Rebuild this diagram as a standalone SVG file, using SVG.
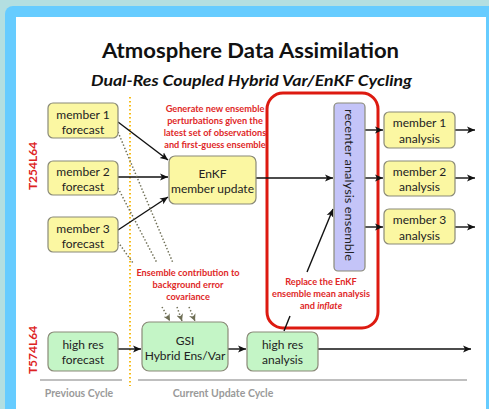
<svg xmlns="http://www.w3.org/2000/svg" width="489" height="409" viewBox="0 0 489 409">
  <style>
    .box { stroke: #8a8a78; stroke-width: 1.2; }
    .ens { fill: #fbf7a2; }
    .hi { fill: #c4f5c6; }
    .lbl { font-family: Lato, "Liberation Sans", sans-serif; font-size: 12px; fill: #222; text-anchor: middle; }
    .note { font-family: Lato, "Liberation Sans", sans-serif; font-size: 9.2px; font-weight: bold; fill: #e02828; text-anchor: middle; }
    .res { font-family: Lato, "Liberation Sans", sans-serif; font-size: 12px; font-weight: bold; fill: #dd2222; text-anchor: middle; }
    .cyc { font-family: Lato, "Liberation Sans", sans-serif; font-size: 10.5px; font-weight: bold; fill: #9a9a9a; text-anchor: middle; }
    .arr { stroke: #111; stroke-width: 1.4; fill: none; marker-end: url(#head); }
    .dots { stroke: #6e6e55; stroke-width: 1.5; stroke-dasharray: 1.4 2; fill: none; }
  </style>
  <defs>
    <marker id="head" markerUnits="userSpaceOnUse" markerWidth="9" markerHeight="8" refX="8" refY="4" orient="auto">
      <path d="M0,0.5 L8,4 L0,7.5 L2,4 Z" fill="#111"/>
    </marker>
    <marker id="ohead" markerUnits="userSpaceOnUse" markerWidth="8" markerHeight="8" refX="7" refY="4" orient="auto">
      <path d="M0,0.5 L7,4 L0,7.5 L2,4 Z" fill="#6e6e55"/>
    </marker>
  </defs>

  <!-- page background and frame -->
  <rect x="0" y="0" width="489" height="409" fill="#b3dfe1"/>
  <rect x="5" y="6" width="500" height="420" rx="8" fill="#66ccff"/>
  <rect x="16" y="17" width="470" height="400" fill="#ffffff"/>

  <!-- titles -->
  <text x="250.5" y="58" font-family="Lato, 'Liberation Sans', sans-serif" font-size="21" font-weight="bold" fill="#111" text-anchor="middle" textLength="297" lengthAdjust="spacingAndGlyphs">Atmosphere Data Assimilation</text>
  <text x="251.5" y="86" font-family="Lato, 'Liberation Sans', sans-serif" font-size="16" font-weight="bold" font-style="italic" fill="#111" text-anchor="middle" textLength="321" lengthAdjust="spacingAndGlyphs">Dual-Res Coupled Hybrid Var/EnKF Cycling</text>

  <!-- resolution labels -->
  <text class="res" transform="translate(37,166) rotate(-90)">T254L64</text>
  <text class="res" transform="translate(37,350) rotate(-90)">T574L64</text>

  <!-- cycle boundary -->
  <line x1="130" y1="97" x2="130" y2="386" stroke="#f7b500" stroke-width="1.8" stroke-dasharray="1.5 2.5"/>
  <line x1="40" y1="380" x2="122" y2="380" stroke="#aaaaaa" stroke-width="1.5"/>
  <line x1="138" y1="380" x2="467" y2="380" stroke="#aaaaaa" stroke-width="1.5"/>
  <text class="cyc" x="79" y="397">Previous Cycle</text>
  <text class="cyc" x="223" y="397">Current Update Cycle</text>

  <!-- recenter step outline -->
  <rect x="267" y="93" width="111" height="235" rx="16" fill="none" stroke="#dd1a10" stroke-width="3"/>

  <!-- connectors -->
  <g id="connectors">
    <line class="arr" x1="118" y1="122" x2="168" y2="160"/>
    <line class="arr" x1="118" y1="177" x2="168" y2="177"/>
    <line class="arr" x1="118" y1="230" x2="168" y2="197"/>
    <line class="arr" x1="256" y1="178" x2="333" y2="178"/>
    <line class="arr" x1="307" y1="272" x2="333" y2="209"/>
    <line x1="284" y1="331" x2="290" y2="316" stroke="#111" stroke-width="1.4"/>
    <line class="arr" x1="365" y1="130" x2="383" y2="130"/>
    <line class="arr" x1="365" y1="178" x2="383" y2="178"/>
    <line class="arr" x1="365" y1="227" x2="383" y2="227"/>
    <line class="arr" x1="455" y1="130" x2="475" y2="130"/>
    <line class="arr" x1="455" y1="178" x2="475" y2="178"/>
    <line class="arr" x1="455" y1="227" x2="475" y2="227"/>
    <line class="arr" x1="118" y1="349" x2="141" y2="349"/>
    <line class="arr" x1="228" y1="349" x2="246" y2="349"/>
    <line class="arr" x1="318" y1="349" x2="471" y2="349"/>
    <!-- ensemble covariance contributions -->
    <line class="dots" x1="118" y1="132" x2="173" y2="263"/>
    <line class="dots" x1="118" y1="188" x2="157" y2="263"/>
    <line class="dots" x1="118" y1="242" x2="133" y2="263"/>
    <line class="dots" x1="162" y1="307" x2="170" y2="321" marker-end="url(#ohead)"/>
    <line class="dots" x1="177" y1="307" x2="182" y2="321" marker-end="url(#ohead)"/>
    <line class="dots" x1="189" y1="307" x2="195" y2="321" marker-end="url(#ohead)"/>
  </g>

  <!-- annotations -->
  <text class="note" x="215" y="112">Generate new ensemble</text>
  <text class="note" x="215" y="124">perturbations given the</text>
  <text class="note" x="215" y="136">latest set of observations</text>
  <text class="note" x="215" y="148">and first-guess ensemble</text>
  <text class="note" x="188" y="276">Ensemble contribution to</text>
  <text class="note" x="188" y="288">background error</text>
  <text class="note" x="188" y="300">covariance</text>
  <text class="note" x="321" y="285">Replace the EnKF</text>
  <text class="note" x="321" y="297">ensemble mean analysis</text>
  <text class="note" x="321" y="309">and <tspan font-style="italic">inflate</tspan></text>

  <!-- low-res ensemble members -->
  <g id="member1-forecast">
    <rect class="box ens" x="48" y="103" width="70" height="35" rx="5"/>
    <text class="lbl" x="83" y="119">member 1</text>
    <text class="lbl" x="83" y="134">forecast</text>
  </g>
  <g id="member2-forecast">
    <rect class="box ens" x="48" y="161" width="70" height="34" rx="5"/>
    <text class="lbl" x="83" y="176">member 2</text>
    <text class="lbl" x="83" y="191">forecast</text>
  </g>
  <g id="member3-forecast">
    <rect class="box ens" x="48" y="217" width="70" height="35" rx="5"/>
    <text class="lbl" x="83" y="233">member 3</text>
    <text class="lbl" x="83" y="248">forecast</text>
  </g>
  <g id="enkf-update">
    <rect class="box ens" x="169" y="156" width="87" height="48" rx="6"/>
    <text class="lbl" x="212.5" y="178">EnKF</text>
    <text class="lbl" x="212.5" y="193">member update</text>
  </g>
  <g id="recenter">
    <rect class="box" x="334" y="103" width="31" height="168" rx="4" fill="#c4c4f8"/>
    <text class="lbl" transform="translate(345,185) rotate(90)" textLength="152" lengthAdjust="spacingAndGlyphs">recenter analysis ensemble</text>
  </g>
  <g id="member1-analysis">
    <rect class="box ens" x="384" y="112" width="71" height="36" rx="5"/>
    <text class="lbl" x="419.5" y="127">member 1</text>
    <text class="lbl" x="419.5" y="143">analysis</text>
  </g>
  <g id="member2-analysis">
    <rect class="box ens" x="384" y="161" width="71" height="35" rx="5"/>
    <text class="lbl" x="419.5" y="176">member 2</text>
    <text class="lbl" x="419.5" y="191">analysis</text>
  </g>
  <g id="member3-analysis">
    <rect class="box ens" x="384" y="209" width="71" height="35" rx="5"/>
    <text class="lbl" x="419.5" y="224">member 3</text>
    <text class="lbl" x="419.5" y="240">analysis</text>
  </g>

  <!-- high-res control -->
  <g id="highres-forecast">
    <rect class="box hi" x="48" y="332" width="70" height="39" rx="6"/>
    <text class="lbl" x="83" y="349">high res</text>
    <text class="lbl" x="83" y="364">forecast</text>
  </g>
  <g id="gsi">
    <rect class="box hi" x="142" y="322" width="86" height="49" rx="7"/>
    <text class="lbl" x="185" y="345">GSI</text>
    <text class="lbl" x="185" y="360">Hybrid Ens/Var</text>
  </g>
  <g id="highres-analysis">
    <rect class="box hi" x="247" y="332" width="71" height="39" rx="6"/>
    <text class="lbl" x="282.5" y="349">high res</text>
    <text class="lbl" x="282.5" y="364">analysis</text>
  </g>
</svg>
